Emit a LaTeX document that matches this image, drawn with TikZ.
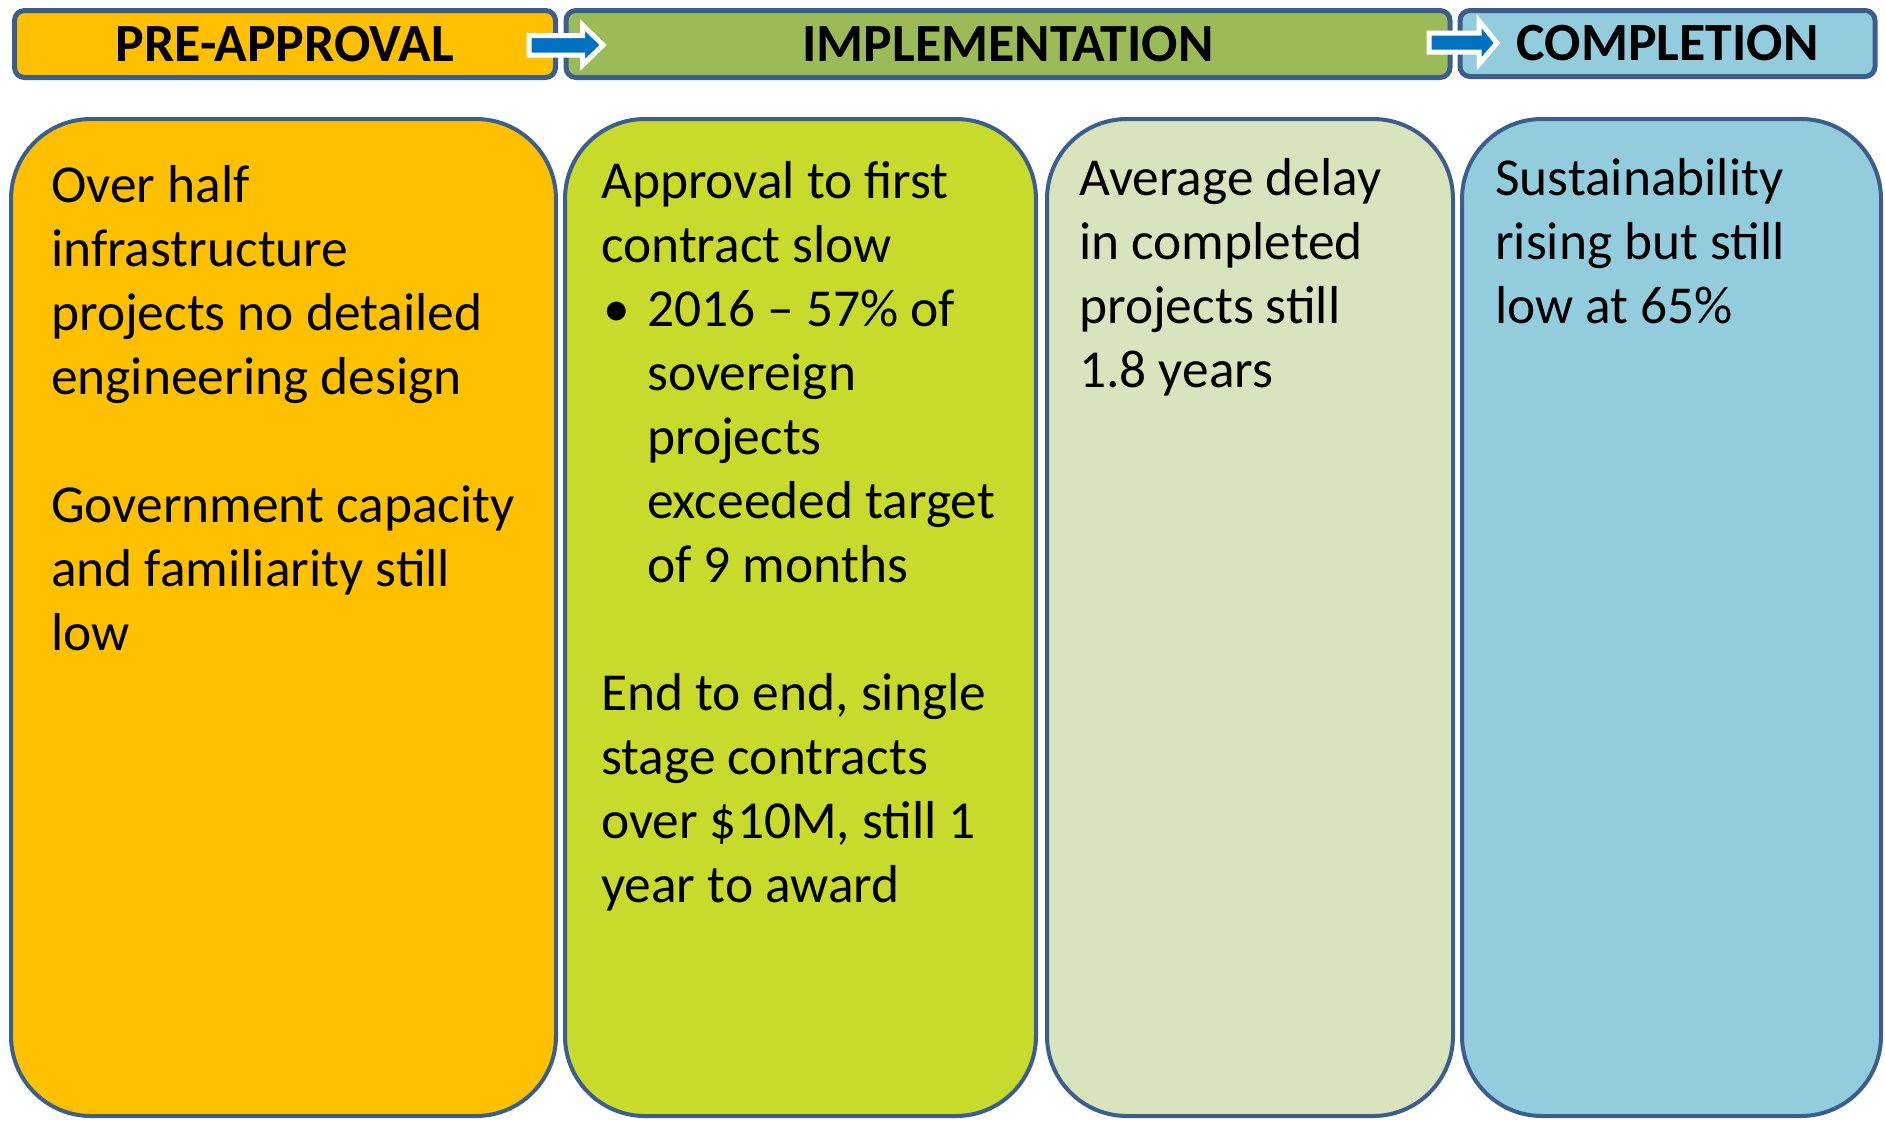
\documentclass[tikz,border=0pt]{standalone}
\usepackage{fontspec}
\setmainfont{Carlito}
\definecolor{bordc}{HTML}{3B5E8C}
\definecolor{orng}{HTML}{FFC000}
\definecolor{hgreen}{HTML}{9BBB59}
\definecolor{lime}{HTML}{C8DA2B}
\definecolor{pale}{HTML}{D7E4BD}
\definecolor{sky}{HTML}{93CDDD}
\definecolor{arrblue}{HTML}{0070C0}
\tikzset{
  hdr/.style={draw=bordc, line width=5pt, rounded corners=10pt, inner sep=0pt, font=\fontsize{53.8}{64}\selectfont\bfseries},
  cbox/.style={draw=bordc, line width=4pt, rounded corners=80pt, inner sep=0pt},
  ctext/.style={anchor=base west, inner sep=0pt, font=\fontsize{53.4}{64}\selectfont},
  barrow/.style={fill=arrblue, draw=white, line width=5pt, line join=miter}
}
\newcommand{\blt}{\makebox[46pt][l]{\hspace{2pt}•}}
\newcommand{\ind}{\hspace*{46pt}}
\begin{document}
\begin{tikzpicture}[x=1pt,y=-1pt]
\useasboundingbox (0,0) rectangle (1885,1120);
\fill[white] (0,0) rectangle (1885,1120);
% headers
\node[hdr, fill=orng, minimum width=541pt, minimum height=67pt] (h1) at (285,44) {PRE-APPROVAL};
\node[hdr, fill=hgreen, minimum width=884pt, minimum height=67pt] (h2) at (1008,44) {IMPLEMENTATION};
\node[hdr, fill=sky, minimum width=415pt, minimum height=66pt] (h3) at (1667.5,43.5) {COMPLETION};
% arrows
\draw[barrow] (529,35.5) -- (582.5,35.5) -- (582.5,25) -- (603,45) -- (582.5,65) -- (582.5,55) -- (529,55) -- cycle;
\draw[barrow] (1429,33) -- (1479,33) -- (1479,21) -- (1497,43) -- (1479,64) -- (1479,52) -- (1429,52) -- cycle;
% content boxes
\node[cbox, fill=orng, minimum width=545pt, minimum height=997pt] (b1) at (283.5,617.5) {};
\node[cbox, fill=lime, minimum width=471pt, minimum height=997pt] (b2) at (800.5,617.5) {};
\node[cbox, fill=pale, minimum width=406pt, minimum height=997pt] (b3) at (1250,617.5) {};
\node[cbox, fill=sky, minimum width=419pt, minimum height=997pt] (b4) at (1671.5,617.5) {};
% texts
\node[ctext] (t1) at (51,202) {\parbox[t]{500pt}{\raggedright Over half\\infrastructure\\projects no detailed\\engineering design\\[64pt]Government capacity\\and familiarity still\\low}};
\node[ctext] (t2) at (601,198) {\parbox[t]{460pt}{\raggedright Approval to first\\contract slow\\\blt 2016 – 57\% of\\\ind sovereign\\\ind projects\\\ind exceeded target\\\ind of 9 months\\[64pt]End to end, single\\stage contracts\\over \$10M, still 1\\year to award}};
\node[ctext] (t3) at (1079,195) {\parbox[t]{400pt}{\raggedright Average delay\\in completed\\projects still\\1.8 years}};
\node[ctext] (t4) at (1495,195) {\parbox[t]{400pt}{\raggedright Sustainability\\rising but still\\low at 65\%}};
\end{tikzpicture}
\end{document}
